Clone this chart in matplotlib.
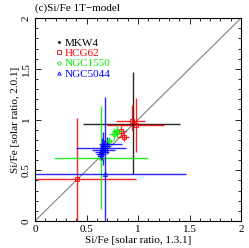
import numpy as np
import matplotlib
matplotlib.use("Agg")
import matplotlib.pyplot as plt

plt.rcParams['font.family'] = ['Liberation Serif', 'DejaVu Serif']
plt.rcParams['font.size'] = 8

# columns: x, x_lo, x_hi, y, y_lo, y_hi
mkw4 = [[0.95, 0.47, 1.41, 0.96, 0.46, 1.47]]
hcg62 = [[0.94, 0.79, 1.07, 0.99, 0.90, 1.14],
         [0.98, 0.70, 1.25, 0.95, 0.68, 1.21],
         [0.86, 0.80, 0.91, 0.83, 0.79, 0.88],
         [0.83, 0.78, 0.88, 0.89, 0.84, 0.94],
         [0.41, 0.00, 0.98, 0.41, -0.10, 1.02]]
ngc1550 = [[0.80, 0.75, 0.85, 0.89, 0.83, 0.95],
           [0.77, 0.72, 0.82, 0.86, 0.80, 0.92],
           [0.72, 0.68, 0.76, 0.79, 0.75, 0.83],
           [0.64, 0.18, 1.10, 0.62, 0.12, 1.13]]
ngc5044 = [[0.68, 0.00, 1.47, 0.46, -0.10, 1.22],
           [0.65, 0.40, 0.88, 0.72, 0.60, 0.82],
           [0.66, 0.55, 0.78, 0.70, 0.55, 0.88],
           [0.64, 0.58, 0.72, 0.68, 0.60, 0.76],
           [0.70, 0.62, 0.84, 0.76, 0.66, 0.83],
           [0.63, 0.59, 0.68, 0.66, 0.62, 0.70],
           [0.67, 0.63, 0.73, 0.74, 0.68, 0.80]]

groups = [("MKW4", mkw4, "k", "."),
          ("HCG62", hcg62, "r", "s"),
          ("NGC1550", ngc1550, "#00ee00", "o"),
          ("NGC5044", ngc5044, "b", "^")]

fig = plt.figure(figsize=(2.49, 2.48), dpi=100)
ax = fig.add_axes([0.1406, 0.109, 0.8274, 0.818])

ax.plot([0, 2], [0, 2], color="gray", lw=0.8, zorder=1)

handles = []
for name, d, c, m in groups:
    d = np.array(d)
    x, y = d[:, 0], d[:, 3]
    xerr = [x - d[:, 1], d[:, 2] - x]
    yerr = [y - d[:, 4], d[:, 5] - y]
    ax.errorbar(x, y, xerr=xerr, yerr=yerr, fmt="none", ecolor=c,
                elinewidth=1.0, capsize=0, alpha=0.85, zorder=2)
    if m == ".":
        h, = ax.plot(x, y, ls="none", marker=".", color=c, ms=2.5, zorder=3)
    else:
        h, = ax.plot(x, y, ls="none", marker=m, mfc="none", mec=c, ms=3,
                     mew=0.6, zorder=3)
    handles.append(h)

leg = ax.legend(handles, [g[0] for g in groups], loc="upper left",
                bbox_to_anchor=(0.07, 0.94), frameon=False, handlelength=0.4,
                handletextpad=0.3, labelspacing=0.05, borderpad=0.2,
                fontsize=8, markerscale=0.8)
for t, g in zip(leg.get_texts(), groups):
    t.set_color(g[2])

ax.set_xlim(0, 2)
ax.set_ylim(0, 2)
ax.set_xticks([0, 0.5, 1, 1.5, 2])
ax.set_yticks([0, 0.5, 1, 1.5, 2])
ax.set_xticklabels(["0", "0.5", "1", "1.5", "2"])
ax.set_yticklabels(["0", "0.5", "1", "1.5", "2"], rotation=90, va="center")
ax.set_xticks(np.arange(0, 2.01, 0.1), minor=True)
ax.set_yticks(np.arange(0, 2.01, 0.1), minor=True)
ax.tick_params(which="both", direction="in", top=True, right=True, width=0.6)
ax.tick_params(which="major", length=4, pad=3)
ax.tick_params(which="minor", length=2)
for s in ax.spines.values():
    s.set_linewidth(0.8)

ax.set_xlabel("Si/Fe [solar ratio, 1.3.1]", labelpad=1)
ax.set_ylabel("Si/Fe [solar ratio, 2.0.1]", labelpad=1)
fig.text(0.14, 0.965, "(c)Si/Fe 1T\u2212model", fontsize=8, va="center")

fig.savefig("out.png", dpi=100)
